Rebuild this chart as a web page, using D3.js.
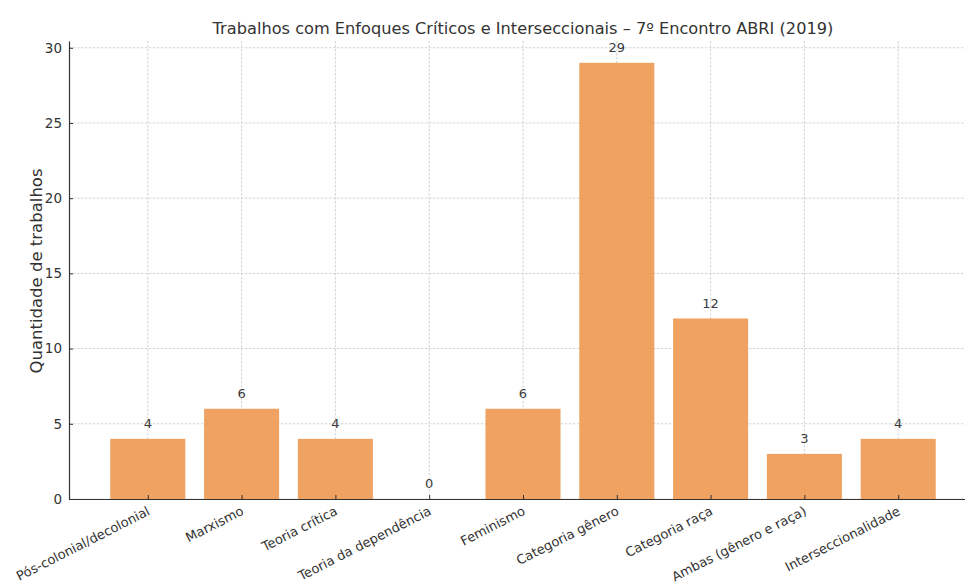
<!DOCTYPE html>
<html>
<head>
<meta charset="utf-8">
<script src="https://cdn.jsdelivr.net/npm/d3@7"></script>
<style>
  body { margin: 0; background: #fff; }
  svg { display: block; font-family: "DejaVu Sans", sans-serif; }
</style>
</head>
<body>
<div id="chart"></div>
<script>
var categories = ["Pós-colonial/decolonial", "Marxismo", "Teoria crítica", "Teoria da dependência",
  "Feminismo", "Categoria gênero", "Categoria raça", "Ambas (gênero e raça)", "Interseccionalidade"]
var counts = [4, 6, 4, 0, 6, 29, 12, 3, 4]
var yTicks = [0, 5, 10, 15, 20, 25, 30]
var title = "Trabalhos com Enfoques Críticos e Interseccionais – 7º Encontro ABRI (2019)"
var yLabel = "Quantidade de trabalhos"

var width = 965, height = 587
var margin = {top: 41, right: -12, bottom: 88, left: 69}

var svg = d3.select("#chart").append("svg")
  .attr("width", width)
  .attr("height", height)

// index scale, matplotlib style margins around the bars
var x = d3.scaleLinear()
  .domain([-0.84, categories.length - 1 + 0.84])
  .range([margin.left, width - margin.right])

var y = d3.scaleLinear()
  .domain([0, 30.45])
  .range([height - margin.bottom, margin.top])

var barW = x(0.8) - x(0)

// grid
var grid = svg.append("g")
grid.selectAll("line.h")
  .data(yTicks)
  .join("line")
    .attr("x1", margin.left).attr("x2", width)
    .attr("y1", d => y(d)).attr("y2", d => y(d))
    .attr("stroke", "#c8c8c8")
    .attr("stroke-width", 0.8)
    .attr("stroke-dasharray", "2.5,1.5")
grid.selectAll("line.v")
  .data(categories)
  .join("line")
    .attr("x1", (d, i) => x(i)).attr("x2", (d, i) => x(i))
    .attr("y1", margin.top).attr("y2", y(0))
    .attr("stroke", "#c8c8c8")
    .attr("stroke-width", 0.8)
    .attr("stroke-dasharray", "2.5,1.5")

// bars
svg.append("g")
  .selectAll("rect")
  .data(counts)
  .join("rect")
    .attr("x", (d, i) => x(i) - barW / 2)
    .attr("y", d => y(d))
    .attr("width", barW)
    .attr("height", d => y(0) - y(d))
    .attr("fill", "#ed9850")
    .attr("opacity", 0.9)

// value labels
svg.append("g")
  .selectAll("text")
  .data(counts)
  .join("text")
    .attr("x", (d, i) => x(i))
    .attr("y", d => y(d) - 11)
    .attr("text-anchor", "middle")
    .attr("font-size", 13)
    .attr("fill", "#3a3a3a")
    .text(d => d)

// y axis
var yAxis = svg.append("g")
  .attr("transform", `translate(${margin.left},0)`)
  .call(d3.axisLeft(y).tickValues(yTicks).tickSizeInner(-4).tickSizeOuter(0).tickPadding(7))
yAxis.select(".domain").attr("stroke", "#333").attr("stroke-width", 1.2)
yAxis.selectAll(".tick line").attr("stroke", "#333")
yAxis.selectAll(".tick text").attr("font-size", 13.5).attr("fill", "#333").attr("font-family", "DejaVu Sans")

// x axis
var xAxis = svg.append("g")
  .attr("transform", `translate(0,${y(0)})`)
  .call(d3.axisBottom(x).tickValues(d3.range(categories.length)).tickSizeInner(-4).tickSizeOuter(0).tickFormat(""))
xAxis.select(".domain").attr("stroke", "#333").attr("stroke-width", 1.2)
xAxis.selectAll(".tick line").attr("stroke", "#333")

svg.append("g")
  .selectAll("text")
  .data(categories)
  .join("text")
    .attr("transform", (d, i) => `translate(${x(i) + 3},${y(0) + 15}) rotate(-27)`)
    .attr("text-anchor", "end")
    .attr("font-size", 13)
    .attr("fill", "#333")
    .text(d => d)

// y label
svg.append("text")
  .attr("transform", `translate(42,${(margin.top + y(0)) / 2 + 1}) rotate(-90)`)
  .attr("text-anchor", "middle")
  .attr("font-size", 16.5)
  .attr("fill", "#333")
  .text(yLabel)

// title
svg.append("text")
  .attr("x", (margin.left + width - margin.right) / 2)
  .attr("y", 34)
  .attr("text-anchor", "middle")
  .attr("font-size", 16.2)
  .attr("fill", "#333")
  .text(title)
</script>
</body>
</html>
